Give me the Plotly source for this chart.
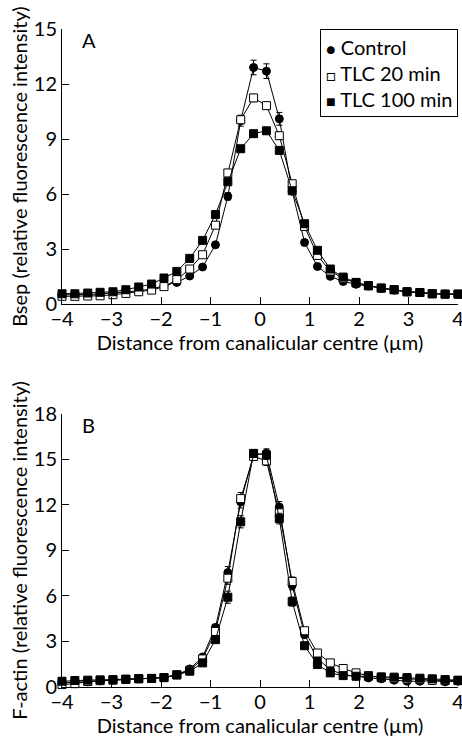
import plotly.graph_objects as go

distance = [-4.00, -3.74, -3.48, -3.23, -2.97, -2.71, -2.45, -2.19, -1.94, -1.68, -1.42, -1.16,
            -0.90, -0.65, -0.39, -0.13, 0.13, 0.39, 0.65, 0.90, 1.16, 1.42, 1.68, 1.94,
            2.19, 2.45, 2.71, 2.97, 3.23, 3.48, 3.74, 4.00]

# Panel A: Bsep
bsep_control = [0.50, 0.50, 0.52, 0.55, 0.60, 0.65, 0.72, 0.82, 1.00, 1.18, 1.53, 2.02,
                3.23, 5.87, 10.0, 12.9, 12.7, 10.1, 6.15, 3.36, 2.05, 1.51, 1.23, 1.08,
                0.98, 0.85, 0.76, 0.66, 0.62, 0.56, 0.54, 0.54]
bsep_control_err = [0.03, 0.03, 0.03, 0.03, 0.03, 0.03, 0.03, 0.03, 0.05, 0.05, 0.06, 0.08,
                    0.12, 0.2, 0.3, 0.4, 0.4, 0.35, 0.15, 0.1, 0.08, 0.06, 0.05, 0.05,
                    0.04, 0.03, 0.03, 0.03, 0.03, 0.03, 0.03, 0.03]
bsep_tlc20 = [0.42, 0.42, 0.44, 0.45, 0.51, 0.58, 0.67, 0.76, 0.95, 1.33, 1.91, 2.69,
              4.30, 7.15, 10.05, 11.24, 10.82, 9.18, 6.56, 4.23, 2.65, 1.80, 1.40, 1.15,
              1.00, 0.87, 0.78, 0.67, 0.63, 0.56, 0.54, 0.54]
bsep_tlc20_err = [0.03, 0.03, 0.03, 0.03, 0.03, 0.03, 0.03, 0.03, 0.05, 0.05, 0.06, 0.08,
                  0.1, 0.15, 0.2, 0.2, 0.2, 0.2, 0.12, 0.1, 0.08, 0.06, 0.05, 0.05,
                  0.04, 0.03, 0.03, 0.03, 0.03, 0.03, 0.03, 0.03]
bsep_tlc100 = [0.56, 0.56, 0.60, 0.64, 0.67, 0.78, 0.93, 1.09, 1.42, 1.78, 2.49, 3.47,
               4.88, 6.67, 8.47, 9.29, 9.45, 8.38, 6.18, 4.38, 2.93, 1.91, 1.47, 1.18,
               1.00, 0.87, 0.78, 0.67, 0.63, 0.56, 0.54, 0.54]
bsep_tlc100_err = [0.03, 0.03, 0.03, 0.03, 0.03, 0.03, 0.03, 0.03, 0.05, 0.05, 0.06, 0.08,
                   0.1, 0.12, 0.15, 0.15, 0.15, 0.15, 0.12, 0.1, 0.08, 0.06, 0.05, 0.05,
                   0.04, 0.03, 0.03, 0.03, 0.03, 0.03, 0.03, 0.03]

# Panel B: F-actin
factin_control = [0.27, 0.30, 0.34, 0.40, 0.45, 0.50, 0.54, 0.56, 0.62, 0.80, 1.19, 1.98,
                  3.93, 7.54, 12.2, 15.3, 15.4, 11.87, 6.70, 3.45, 1.87, 1.15, 0.82, 0.71,
                  0.60, 0.54, 0.45, 0.38, 0.38, 0.42, 0.34, 0.38]
factin_control_err = [0.05, 0.05, 0.05, 0.05, 0.05, 0.05, 0.05, 0.05, 0.05, 0.06, 0.08, 0.12,
                      0.2, 0.4, 0.4, 0.25, 0.3, 0.35, 0.3, 0.15, 0.1, 0.08, 0.06, 0.05,
                      0.05, 0.05, 0.05, 0.05, 0.05, 0.05, 0.05, 0.05]
factin_tlc20 = [0.16, 0.22, 0.36, 0.42, 0.45, 0.50, 0.54, 0.56, 0.62, 0.80, 1.10, 1.85,
                3.66, 7.17, 12.42, 15.2, 14.9, 11.48, 6.95, 3.71, 2.24, 1.59, 1.22, 0.93,
                0.75, 0.62, 0.57, 0.53, 0.49, 0.44, 0.42, 0.42]
factin_tlc20_err = [0.05, 0.05, 0.05, 0.05, 0.05, 0.05, 0.05, 0.05, 0.05, 0.06, 0.08, 0.12,
                    0.2, 0.4, 0.4, 0.25, 0.3, 0.35, 0.3, 0.15, 0.1, 0.08, 0.06, 0.05,
                    0.05, 0.05, 0.05, 0.05, 0.05, 0.05, 0.05, 0.05]
factin_tlc100 = [0.38, 0.43, 0.45, 0.47, 0.49, 0.52, 0.55, 0.57, 0.62, 0.80, 1.04, 1.59,
                 3.12, 5.92, 10.89, 15.4, 15.3, 11.1, 5.63, 2.72, 1.48, 0.93, 0.75, 0.71,
                 0.71, 0.67, 0.65, 0.62, 0.58, 0.54, 0.49, 0.45]
factin_tlc100_err = [0.05, 0.05, 0.05, 0.05, 0.05, 0.05, 0.05, 0.05, 0.05, 0.06, 0.08, 0.12,
                     0.2, 0.4, 0.4, 0.25, 0.3, 0.35, 0.3, 0.15, 0.1, 0.08, 0.06, 0.05,
                     0.05, 0.05, 0.05, 0.05, 0.05, 0.05, 0.05, 0.05]

names = ["Control", "TLC 20 min", "TLC 100 min"]
legend_glyphs = ["●", "□", "■"]
symbols = ["circle", "square", "square"]
fills = ["black", "white", "black"]

FONT = "Lato"
FS = 20
fig = go.Figure()

panels = [
    ("x", "y", [bsep_control, bsep_tlc20, bsep_tlc100],
     [bsep_control_err, bsep_tlc20_err, bsep_tlc100_err]),
    ("x2", "y2", [factin_control, factin_tlc20, factin_tlc100],
     [factin_control_err, factin_tlc20_err, factin_tlc100_err]),
]
for xa, ya, series, errs in panels:
    for i in range(3):
        fig.add_trace(go.Scatter(
            x=distance, y=series[i], xaxis=xa, yaxis=ya,
            mode="lines+markers", name=names[i], showlegend=False,
            line=dict(color="black", width=1),
            marker=dict(symbol=symbols[i], size=8, color=fills[i],
                        line=dict(color="black", width=1)),
            error_y=dict(type="data", array=errs[i], color="black", thickness=1, width=3),
            cliponaxis=False,
        ))

axis_common = dict(showline=True, linecolor="black", linewidth=1, ticks="inside",
                   tickcolor="black", ticklen=7, tickwidth=1, showgrid=False, zeroline=False,
                   automargin=False, ticklabeloverflow="allow",
                   tickfont=dict(family=FONT, size=FS, color="black"))

xcommon = dict(range=[-4, 4], tickvals=[-4, -3, -2, -1, 0, 1, 2, 3, 4],
               ticklabelstandoff=-3,
               title=dict(text="Distance from canalicular centre (µm)", standoff=3,
                          font=dict(family=FONT, size=FS)))

legend_text = "<br>".join(
    f"<span style='font-size:16px'>{g}</span> {n}" for g, n in zip(legend_glyphs, names)
)

fig.update_layout(
    width=462, height=737,
    margin=dict(l=62, r=4, t=29, b=50),
    plot_bgcolor="white", paper_bgcolor="white",
    font=dict(family=FONT, size=FS, color="black"),
    showlegend=False,
    xaxis=dict(domain=[0, 1], anchor="y", **xcommon, **axis_common),
    yaxis=dict(domain=[0.582, 1], range=[0, 15], tickvals=[0, 3, 6, 9, 12, 15], anchor="x",
               title=dict(text="Bsep (relative fluorescence intensity)", standoff=0,
                          font=dict(family=FONT, size=FS)),
               **axis_common),
    xaxis2=dict(domain=[0, 1], anchor="y2", **xcommon, **axis_common),
    yaxis2=dict(domain=[0, 0.415], range=[0, 18], tickvals=[0, 3, 6, 9, 12, 15, 18], anchor="x2",
                title=dict(text="F-actin (relative fluorescence intensity)", standoff=0,
                           font=dict(family=FONT, size=FS)),
                **axis_common),
    annotations=[
        dict(text="A", xref="paper", yref="paper", x=0.045, y=1.005, xanchor="left", yanchor="top",
             showarrow=False, font=dict(family=FONT, size=FS, color="black")),
        dict(text="B", xref="paper", yref="paper", x=0.045, y=0.42, xanchor="left", yanchor="top",
             showarrow=False, font=dict(family=FONT, size=FS, color="black")),
        dict(text=legend_text, xref="paper", yref="paper", x=1, y=1,
             xanchor="right", yanchor="top", align="left", showarrow=False,
             bordercolor="black", borderwidth=1, borderpad=5, bgcolor="white",
             font=dict(family=FONT, size=FS, color="black")),
    ],
)

fig.write_html("out.html", config={"displayModeBar": False},
               post_script="document.body.style.margin='0';")
